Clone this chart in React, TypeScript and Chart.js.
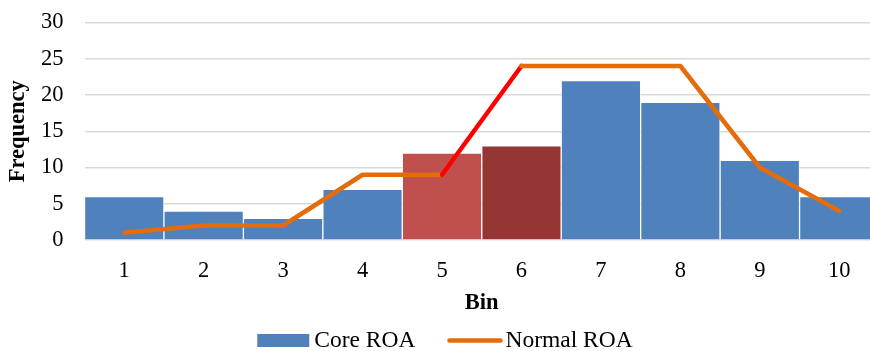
import React, { useEffect, useRef } from "react";
import { Chart, registerables } from "chart.js";

Chart.register(...registerables);

const bins = ["1", "2", "3", "4", "5", "6", "7", "8", "9", "10"];
const coreROA = [6, 4, 3, 7, 12, 13, 22, 19, 11, 6];
const normalROA = [1, 2, 2, 9, 9, 24, 24, 24, 10, 4];
const barColors = [
  "#4F81BD", "#4F81BD", "#4F81BD", "#4F81BD", "#C0504D",
  "#943634", "#4F81BD", "#4F81BD", "#4F81BD", "#4F81BD",
];
const yTicks = [0, 5, 10, 15, 20, 25, 30];
const seriesNames = ["Core ROA", "Normal ROA"];

const FONT = "'Liberation Serif', 'Times New Roman', serif";
const FS = 22.5;
const LEG_FS = 23.5;
const ORANGE = "#E46C0A";
const BLUE = "#4F81BD";

const legendPlugin = {
  id: "customLegend",
  afterDraw(chart: any) {
    const ctx = chart.ctx as CanvasRenderingContext2D;
    ctx.save();
    ctx.font = `${LEG_FS}px ${FONT}`;
    ctx.textBaseline = "middle";
    ctx.fillStyle = "#000";
    const w1 = ctx.measureText(seriesNames[0]).width;
    const w2 = ctx.measureText(seriesNames[1]).width;
    const boxW = 52, lineW = 55, gapText = 5, gapText2 = 3, gapItems = 32;
    const total = boxW + gapText + w1 + gapItems + lineW + gapText2 + w2;
    const cy = 340.5;
    let x = 445 - total / 2;
    ctx.fillStyle = BLUE;
    ctx.fillRect(x, cy - 6.5, boxW, 13);
    x += boxW + gapText;
    ctx.fillStyle = "#000";
    ctx.fillText(seriesNames[0], x, cy);
    x += w1 + gapItems;
    ctx.strokeStyle = ORANGE;
    ctx.lineWidth = 4.5;
    ctx.lineCap = "round";
    ctx.beginPath();
    ctx.moveTo(x + 2, cy);
    ctx.lineTo(x + lineW - 2, cy);
    ctx.stroke();
    x += lineW + gapText2;
    ctx.fillText(seriesNames[1], x, cy);
    ctx.restore();
  },
};

export default function App() {
  const ref = useRef<HTMLCanvasElement | null>(null);

  useEffect(() => {
    document.body.style.margin = "0";
    document.body.style.overflow = "hidden";
    const canvas = ref.current;
    if (!canvas) return;
    const chart = new Chart(canvas, {
      type: "bar",
      data: {
        labels: bins,
        datasets: [
          {
            type: "bar",
            label: seriesNames[0],
            data: coreROA,
            backgroundColor: barColors,
            borderColor: "rgba(255,255,255,0.55)",
            borderWidth: 1,
            borderSkipped: "bottom",
            barPercentage: 1,
            categoryPercentage: 1,
            order: 2,
          } as any,
          {
            type: "line",
            label: seriesNames[1],
            data: normalROA,
            borderColor: ORANGE,
            backgroundColor: ORANGE,
            borderWidth: 4.5,
            pointRadius: 0,
            borderJoinStyle: "round",
            borderCapStyle: "round",
            tension: 0,
            order: 1,
            segment: {
              borderColor: (ctx: any) => (ctx.p0DataIndex === 4 ? "#FF0000" : undefined),
            },
          } as any,
        ],
      },
      plugins: [legendPlugin],
      options: {
        responsive: false,
        maintainAspectRatio: false,
        animation: false,
        layout: { padding: { top: 22.5, right: 0, left: 5, bottom: 34 } },
        plugins: {
          tooltip: { enabled: false },
          legend: { display: false },
        },
        scales: {
          x: {
            grid: { display: false, drawTicks: false },
            border: { display: false },
            afterFit: (axis: any) => {
              axis.height -= 18;
            },
            ticks: {
              color: "#000",
              font: { family: FONT, size: FS },
              padding: 18,
              maxRotation: 0,
            },
            title: {
              display: true,
              text: "Bin",
              color: "#000",
              font: { family: FONT, size: FS, weight: "bold" },
              padding: { top: 5, bottom: 0 },
            },
          },
          y: {
            min: 0,
            max: 30,
            afterBuildTicks: (axis: any) => {
              axis.ticks = yTicks.map((v) => ({ value: v }));
            },
            afterFit: (axis: any) => {
              axis.paddingTop = 0;
              axis.paddingBottom = 0;
              axis.width -= 21;
            },
            grid: { color: "#D9D9D9", lineWidth: 1.5, drawTicks: false },
            border: { display: false },
            ticks: {
              color: "#000",
              font: { family: FONT, size: FS },
              padding: 21,
            },
            title: {
              display: true,
              text: "Frequency",
              color: "#000",
              font: { family: FONT, size: FS, weight: "bold" },
              padding: { top: 0, bottom: 9 },
            },
          },
        },
      },
    });
    return () => chart.destroy();
  }, []);

  return (
    <div style={{ width: 870, height: 351, overflow: "hidden", position: "relative" }}>
      <canvas ref={ref} width={879} height={351} style={{ position: "absolute", left: 0, top: 0 }} />
    </div>
  );
}
